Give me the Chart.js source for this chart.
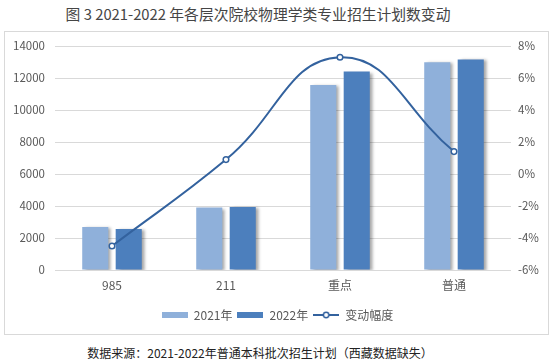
<!DOCTYPE html>
<html lang="zh-CN">
<head>
    <meta charset="UTF-8">
    <meta name="viewport" content="width=device-width, initial-scale=1.0">
    <title>各层次院校物理学类专业招生计划数变动</title>
    <script src="https://cdn.jsdelivr.net/npm/chart.js"></script>
    <style>
        body {
            margin: 0;
            width: 555px;
            height: 363px;
            position: relative;
            overflow: hidden;
            background: #fff;
            font-family: "Noto Sans CJK SC", sans-serif;
        }
        .titulo {
            position: absolute;
            top: 4px;
            left: 0;
            width: 516px;
            text-align: center;
            font-size: 14.8px;
            line-height: 20px;
            color: #454545;
        }
        .moldura {
            position: absolute;
            left: 4px;
            top: 31px;
            width: 543px;
            height: 302px;
            border: 1px solid #d9d9d9;
        }
        .grafico {
            position: absolute;
            left: 0;
            top: 0;
            width: 555px;
            height: 340px;
        }
        .fonte {
            position: absolute;
            top: 344px;
            left: 0;
            width: 520px;
            text-align: center;
            font-size: 12px;
            line-height: 18px;
            color: #222;
        }
    </style>
</head>
<body>
    <div class="titulo">图 3 2021-2022 年各层次院校物理学类专业招生计划数变动</div>
    <div class="moldura"></div>
    <div class="grafico"><canvas id="grafico"></canvas></div>
    <div class="fonte">数据来源：2021-2022年普通本科批次招生计划（西藏数据缺失）</div>

    <script>
        const categorias = ['985', '211', '重点', '普通'];
        const plano2021 = [2680, 3900, 11560, 12980];
        const plano2022 = [2560, 3935, 12400, 13160];
        const variacao = [-4.5, 0.9, 7.3, 1.4];   // %
        const rotulosSeries = ['2021年', '2022年', '变动幅度'];

        const cor2021 = '#8fb0da';
        const cor2022 = '#4c7fbd';
        const corLinha = '#33629e';
        const corTexto = '#595959';

        function iconeBarra(cor) {
            const c = document.createElement('canvas');
            c.width = 26; c.height = 8;
            const g = c.getContext('2d');
            g.fillStyle = cor;
            g.fillRect(0, 1, 26, 6);
            return c;
        }

        function iconeLinha(cor) {
            const c = document.createElement('canvas');
            c.width = 26; c.height = 8;
            const g = c.getContext('2d');
            g.strokeStyle = cor;
            g.lineWidth = 2;
            g.beginPath(); g.moveTo(0, 4); g.lineTo(26, 4); g.stroke();
            g.fillStyle = '#fff';
            g.lineWidth = 1.5;
            g.beginPath(); g.arc(13, 4, 2.7, 0, Math.PI * 2); g.fill(); g.stroke();
            return c;
        }

        // sombra cinza nas barras, como no Excel
        const sombraBarras = {
            id: 'sombraBarras',
            beforeDatasetDraw(chart, args) {
                if (args.meta.type !== 'bar') return;
                const ctx = chart.ctx;
                ctx.save();
                ctx.shadowColor = 'rgba(0,0,0,0.35)';
                ctx.shadowBlur = 3;
                ctx.shadowOffsetX = 3;
                ctx.shadowOffsetY = 1;
            },
            afterDatasetDraw(chart, args) {
                if (args.meta.type === 'bar') chart.ctx.restore();
            }
        };

        const icones = [iconeBarra(cor2021), iconeBarra(cor2022), iconeLinha(corLinha)];

        let ctx = document.getElementById('grafico').getContext('2d');
        let grafico = new Chart(ctx, {
            data: {
                labels: categorias,
                datasets: [
                    {
                        type: 'line',
                        label: rotulosSeries[2],
                        data: variacao,
                        yAxisID: 'y2',
                        borderColor: corLinha,
                        borderWidth: 2,
                        tension: 0.45,
                        pointRadius: 2.8,
                        pointBorderWidth: 1.5,
                        pointBackgroundColor: '#fff',
                        pointBorderColor: corLinha,
                        order: 0
                    },
                    {
                        type: 'bar',
                        label: rotulosSeries[0],
                        data: plano2021,
                        yAxisID: 'y',
                        backgroundColor: cor2021,
                        categoryPercentage: 0.587,
                        barPercentage: 0.78,
                        order: 1
                    },
                    {
                        type: 'bar',
                        label: rotulosSeries[1],
                        data: plano2022,
                        yAxisID: 'y',
                        backgroundColor: cor2022,
                        categoryPercentage: 0.587,
                        barPercentage: 0.78,
                        order: 2
                    }
                ]
            },
            options: {
                responsive: true,
                maintainAspectRatio: false,
                animation: false,
                layout: { padding: { top: 46, bottom: 9, left: 0, right: 0 } },
                plugins: {
                    tooltip: { enabled: false },
                    legend: {
                        position: 'bottom',
                        labels: {
                            usePointStyle: true,
                            pointStyleWidth: 26,
                            boxHeight: 8,
                            padding: 5,
                            color: corTexto,
                            font: { family: '"Noto Sans CJK SC", sans-serif', size: 12 },
                            generateLabels: () => [0, 1, 2].map(i => ({
                                text: rotulosSeries[i],
                                pointStyle: icones[i],
                                fontColor: corTexto,
                                datasetIndex: i === 2 ? 0 : i + 1,
                                hidden: false,
                                lineWidth: 0
                            }))
                        }
                    }
                },
                scales: {
                    x: {
                        grid: { display: false, drawTicks: false },
                        border: { display: false },
                        ticks: {
                            padding: 8,
                            color: corTexto,
                            font: { family: '"Noto Sans CJK SC", sans-serif', size: 12 }
                        },
                        afterFit: s => { s.height = 34; }
                    },
                    y: {
                        position: 'left',
                        min: 0,
                        max: 14000,
                        ticks: {
                            stepSize: 2000,
                            padding: 10,
                            color: corTexto,
                            font: { family: '"Noto Sans CJK SC", sans-serif', size: 11.5 },
                            callback: v => String(v)
                        },
                        grid: { color: '#d9d9d9', drawTicks: false },
                        border: { display: false },
                        afterFit: s => { s.width = 55; }
                    },
                    y2: {
                        position: 'right',
                        min: -6,
                        max: 8,
                        ticks: {
                            stepSize: 2,
                            padding: 7,
                            color: corTexto,
                            font: { family: '"Noto Sans CJK SC", sans-serif', size: 11.5 },
                            callback: v => v + '%'
                        },
                        grid: { display: false, drawTicks: false },
                        border: { display: false },
                        afterFit: s => { s.width = 44; }
                    }
                }
            },
            plugins: [sombraBarras]
        });
    </script>
</body>
</html>
